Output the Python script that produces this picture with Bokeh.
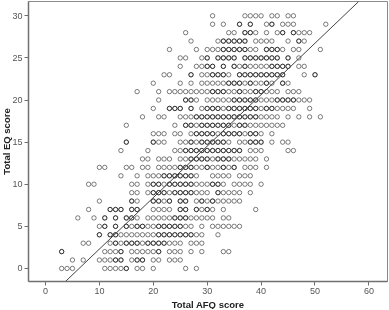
from bokeh.plotting import figure
from bokeh.models import FixedTicker, Title
from bokeh.embed import file_html
from bokeh.resources import INLINE

# AFQ values observed at each EQ score
eq_0 = [3,4,5,11,12,13,14,15,17,18,20,26,28]
eq_1 = [5,7,10,11,12,13,14,16,17,18,20,21,23,24,25]
eq_2 = [3,11,12,13,14,16,17,18,19,20,21,23,24,25,27,29,33,34]
eq_3 = [7,8,12,13,14,15,16,17,18,19,20,21,22,23,24,25,27,28,29]
eq_4 = [10,12,13,14,15,16,17,18,19,20,21,22,23,24,25,26,27,28,29,32]
eq_5 = [10,11,13,15,16,17,18,19,20,21,22,23,24,25,26,27,29,31,32,33,34,35,36]
eq_6 = [6,9,11,13,15,16,17,19,20,21,22,23,24,25,26,27,28,29,30,31,33,34]
eq_7 = [8,12,13,14,16,17,20,21,22,23,25,26,28,29,30,31,33,39]
eq_8 = [10,16,17,20,21,22,23,25,26,28,29,30,31,32,33,34,35,36]
eq_9 = [16,17,19,20,21,22,23,24,25,26,27,28,29,30,32,33,34,35,36,38]
eq_10 = [8,9,16,17,19,20,21,22,23,24,25,26,27,28,29,30,31,32,33,35,36,37,38,40]
eq_11 = [14,17,19,20,21,22,23,24,25,26,27,28,31,32,33,34,36,37,38]
eq_12 = [10,11,15,16,18,19,21,22,23,24,25,26,27,28,29,30,31,32,33,34,35,37,38,39,41]
eq_13 = [18,19,21,22,23,25,26,27,28,29,30,31,32,33,34,35,36,37,38,39,41]
eq_14 = [14,19,24,25,26,27,28,29,30,31,32,33,34,35,36,38,39,40,45,46]
eq_15 = [15,20,21,22,25,26,27,28,29,30,31,32,33,34,36,37,38,39,40,42,44,45]
eq_16 = [20,21,22,24,25,27,28,29,30,31,32,33,34,35,36,37,38,39,40,42]
eq_17 = [15,24,26,27,28,29,30,31,32,33,34,35,36,37,38,39,40,41,42,43,44]
eq_18 = [18,21,22,25,26,27,28,29,30,31,32,33,34,35,36,37,38,39,40,41,42,43,45,47,49,51]
eq_19 = [20,23,24,25,27,29,30,31,32,33,34,35,36,37,38,39,40,41,42,43,44,45,46,49]
eq_20 = [21,26,27,28,30,31,32,33,34,35,36,37,38,39,40,41,42,43,44,45,46,47,48,49]
eq_21 = [17,21,23,24,25,26,27,28,29,30,31,32,33,34,35,36,37,38,39,40,41,42,43,45,46,47]
eq_22 = [20,25,27,29,30,31,32,33,34,35,36,37,38,39,40,41,42,44,45]
eq_23 = [22,23,27,29,30,31,32,33,34,36,37,38,39,40,41,42,43,44,48,50]
eq_24 = [25,28,29,30,31,33,35,36,37,38,39,40,41,42,43,44,45,47,48]
eq_25 = [25,26,29,30,32,33,34,35,37,38,39,40,41,42,43,45,47]
eq_26 = [23,28,30,31,32,33,34,35,36,37,38,39,41,42,43,44,46,47,51]
eq_27 = [27,32,33,34,35,36,37,39,40,41,42,45,47,48]
eq_28 = [26,34,35,37,38,39,41,43,44,46,47,48,49]
eq_29 = [31,33,36,38,41,42,44,45,46,52]
eq_30 = [31,37,38,39,40,42,43,45,46]
afq_rows = [eq_0,eq_1,eq_2,eq_3,eq_4,eq_5,eq_6,eq_7,eq_8,eq_9,eq_10,eq_11,eq_12,eq_13,eq_14,eq_15,
            eq_16,eq_17,eq_18,eq_19,eq_20,eq_21,eq_22,eq_23,eq_24,eq_25,eq_26,eq_27,eq_28,eq_29,eq_30]

# positions where several cases overlap (the darker rings)
dup_0 = [15]
dup_1 = [13,14,17,18]
dup_2 = [3,14,21]
dup_3 = [13,15,16,17,19,20,21,22]
dup_4 = [10,12,13,21,22,23,24,25,26,27]
dup_5 = [11,13,15,17,18,21,22,23,24,25]
dup_6 = [11,13,15,16,24,25,26]
dup_7 = [12,13,14,16,17,25,26,28,30]
dup_8 = [16,20,21,23,25,26,29,31]
dup_9 = [20,21,22,24,25,26,27,32]
dup_10 = [20,21,23,24,25,26,27,31,32]
dup_11 = [22,23,24,25,26,27]
dup_12 = [25,26,27,30,33,35]
dup_13 = [27,28,29,30,32,33,34]
dup_14 = [26,27,28,29,30,31,32,33,34,35,36]
dup_15 = [15,20,27,29,30,31,32,33,38,39,40]
dup_16 = [28,29,30,31,33,34,35,36,38,39]
dup_17 = [26,27,29,30,31,32,33,34,36,37]
dup_18 = [28,29,30,31,32,33,34,35,36,37,38,39]
dup_19 = [23,24,25,27,30,31,32,34,35,36,37,38,39,41,42]
dup_20 = [26,27,35,36,37,38,39,43,44,45,46]
dup_21 = [31,32,33,36,39,40]
dup_22 = [34,35,36,38,41,44]
dup_23 = [27,31,32,33,36,37,38,39,40,41,42,43,44,50]
dup_24 = [30,31,33,35,37,42,43,44,45]
dup_25 = [30,32,33,34,35,37,38,39,40,41,42,43,45]
dup_26 = [33,34,35,36,37,41,42,43]
dup_27 = [33,34,35,36,37,47]
dup_28 = [37,38,44,46]
dup_29 = [36,38,42]
dup_30 = []
dup_rows = [dup_0,dup_1,dup_2,dup_3,dup_4,dup_5,dup_6,dup_7,dup_8,dup_9,dup_10,dup_11,dup_12,dup_13,dup_14,dup_15,
            dup_16,dup_17,dup_18,dup_19,dup_20,dup_21,dup_22,dup_23,dup_24,dup_25,dup_26,dup_27,dup_28,dup_29,dup_30]

# fit line ends
fit_afq = [3.7, 58.1]
fit_eq = [-1.55, 31.7]

x_ticks = [0,10,20,30,40,50,60]
y_ticks = [0,5,10,15,20,25,30]
x_title = "Total AFQ score"
y_title = "Total EQ score"

xs, ys, dx, dy = [], [], [], []
for eq, (row, dup) in enumerate(zip(afq_rows, dup_rows)):
    xs += row
    ys += [eq] * len(row)
    dx += dup
    dy += [eq] * len(dup)

p = figure(width=389, height=309, output_backend="svg", toolbar_location=None,
           x_range=(-3.15, 63.45), y_range=(-1.55, 31.7),
           min_border_left=0, min_border_right=2, min_border_top=1, min_border_bottom=0,
           styles={"position": "fixed", "left": "0px", "top": "0px"})
p.grid.visible = False
p.outline_line_color = "#8a8a8a"
p.outline_line_width = 1
p.background_fill_color = "white"
p.border_fill_color = "white"

for ax, ticks in ((p.xaxis[0], x_ticks), (p.yaxis[0], y_ticks)):
    ax.ticker = FixedTicker(ticks=ticks)
    ax.major_label_text_font = "Liberation Sans"
    ax.major_label_text_font_size = "9px"
    ax.major_label_text_color = "#555555"
    ax.axis_line_color = "#707070"
    ax.axis_line_width = 1.5
    ax.major_tick_line_color = "#707070"
    ax.major_tick_out = 4
    ax.major_tick_in = 0
    ax.minor_tick_line_color = None
    ax.major_label_standoff = 2

title_style = dict(text_font="Liberation Sans", text_font_style="bold", text_font_size="9.5px",
                   text_color="#222222", align="center")
p.add_layout(Title(text=x_title, standoff=0, **title_style), "below")
p.add_layout(Title(text=y_title, standoff=-4, **title_style), "left")

p.scatter(xs, ys, marker="circle", size=4.4, fill_color=None, line_color="#000000", line_alpha=0.5, line_width=1)
p.scatter(dx, dy, marker="circle", size=4.4, fill_color=None, line_color="#000000", line_alpha=0.55, line_width=1)
p.line(fit_afq, fit_eq, line_color="#444444", line_width=1)

open("out.html", "w").write(file_html(p, INLINE))
